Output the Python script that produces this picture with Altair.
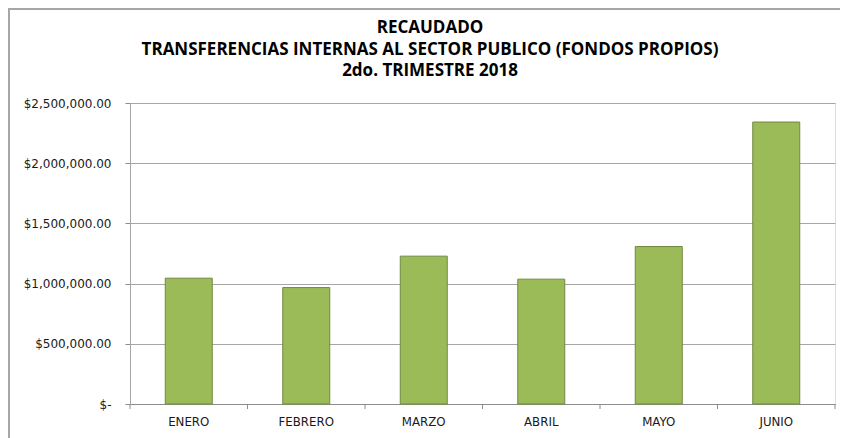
import altair as alt
import pandas as pd

meses = ["ENERO", "FEBRERO", "MARZO", "ABRIL", "MAYO", "JUNIO"]
recaudado = [1045000, 967000, 1228000, 1037000, 1308000, 2342000]
y_ticks = [0, 500000, 1000000, 1500000, 2000000, 2500000]
titulo = ["RECAUDADO",
          "TRANSFERENCIAS INTERNAS AL SECTOR PUBLICO (FONDOS PROPIOS)",
          "2do. TRIMESTRE 2018"]

df = pd.DataFrame({"mes": meses, "valor": recaudado})

W, H = 705, 301

xscale = alt.Scale(domain=meses, paddingInner=0.6, paddingOuter=0.3)

bars = alt.Chart(df).mark_bar(
    fill="#9BBB59", stroke="#71893F", strokeWidth=1
).encode(
    x=alt.X("mes:N", sort=meses, scale=xscale, title=None,
            axis=alt.Axis(labelAngle=0, ticks=False, domainColor="#8C8C8C",
                          labelFont="DejaVu Sans", labelFontSize=11.8,
                          labelColor="#1A1A1A", labelPadding=12)),
    y=alt.Y("valor:Q", scale=alt.Scale(domain=[0, 2500000], nice=False),
            title=None,
            axis=alt.Axis(values=y_ticks, gridColor="#A6A6A6", gridWidth=1.2,
                          domainColor="#A6A6A6", tickColor="#8C8C8C", tickSize=5,
                          labelFont="DejaVu Sans", labelFontSize=12,
                          labelColor="#1A1A1A", labelPadding=14,
                          labelExpr="datum.value == 0 ? '$-' : format(datum.value, '$,.2f')"))
)

ticks = alt.Chart(df).mark_rule(color="#8C8C8C", strokeWidth=1).encode(
    x=alt.X("mes:N", sort=meses, scale=xscale, bandPosition=0),
    xOffset=alt.value(-35.25),
    y=alt.value(H),
    y2=alt.value(H + 5),
)

end_tick = alt.Chart(df.head(1)).mark_rule(color="#8C8C8C", strokeWidth=1).encode(
    x=alt.value(W), y=alt.value(H), y2=alt.value(H + 5)
)

border = alt.Chart(df.head(1)).mark_rect(
    fill=None, stroke="#A6A6A6", strokeWidth=2
).encode(
    x=alt.value(-121), x2=alt.value(W + 60),
    y=alt.value(-94), y2=alt.value(H + 60),
)

chart = alt.layer(border, bars, ticks, end_tick).properties(
    width=W, height=H,
    autosize=alt.AutoSizeParams(type="none"),
    padding={"left": 122, "top": 95, "right": 5, "bottom": 34},
    title=alt.TitleParams(
        text=titulo, anchor="middle", frame="bounds",
        font="Open Sans", fontSize=17, fontWeight="bold", color="#000000",
        lineHeight=21.5, offset=-72, dx=-22,
    ),
).configure_view(
    fill="#EEF1E7", stroke=None
).configure(background="white")

chart.save("out.html", embed_options={"renderer": "svg", "actions": False})
